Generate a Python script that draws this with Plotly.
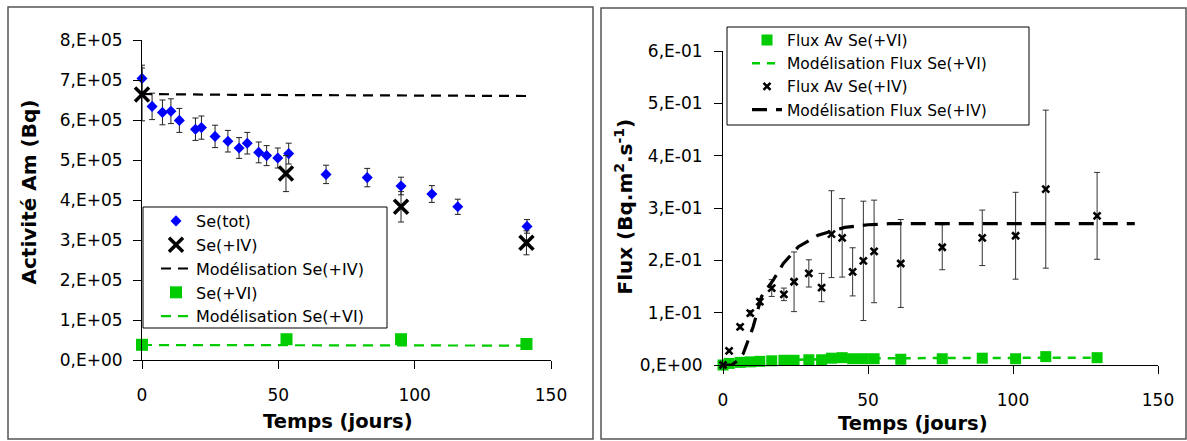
import plotly.graph_objects as go

# ---------------- Left panel data ----------------
tot_days = [0, 3.7, 7.5, 10.6, 13.7, 19.6, 21.8, 26.8, 31.5, 35.6, 38.6, 42.8, 45.7, 49.8, 53.8,
            67.5, 82.6, 95, 106.3, 115.8, 141.2]
tot_vals = [704000, 634000, 619000, 622000, 599000, 577000, 581000, 559000, 547000, 530000, 542000,
            519000, 511000, 505000, 516000, 464000, 456000, 435000, 415000, 383000, 334000]
tot_err = [33000, 33000, 31000, 31000, 30000, 28000, 29000, 28000, 27000, 26000, 27000,
           26000, 25000, 25000, 26000, 23000, 23000, 22000, 21000, 19000, 17000]

iv_days = [0, 52.8, 95, 141]
iv_vals = [664000, 466000, 383000, 293000]
iv_err = [66000, 45000, 38000, 30000]

mod_iv_days = [0, 33, 141]
mod_iv_vals = [665000, 663000, 660000]

vi_days = [0, 53, 95, 141]
vi_vals = [38000, 52000, 52000, 40000]

mod_vi_days = [0, 141]
mod_vi_vals = [37500, 36000]

left_yticks = [0, 100000, 200000, 300000, 400000, 500000, 600000, 700000, 800000]
left_yticktext = ["0,E+00", "1,E+05", "2,E+05", "3,E+05", "4,E+05", "5,E+05", "6,E+05", "7,E+05", "8,E+05"]

# ---------------- Right panel data ----------------
flux_days = [0, 2.1, 5.9, 9.4, 12.7, 16.8, 21.0, 24.5, 29.6, 34.0, 37.4, 41.1, 44.7, 48.4, 52.1,
             61.3, 75.6, 89.4, 100.9, 111.3, 129.0]
flux_iv = [0.0, 0.027, 0.073, 0.099, 0.121, 0.147, 0.135, 0.159, 0.175, 0.148, 0.250, 0.243, 0.178,
           0.199, 0.217, 0.194, 0.225, 0.243, 0.247, 0.336, 0.285]
flux_iv_err = [0.0, 0.003, 0.004, 0.005, 0.006, 0.016, 0.012, 0.057, 0.026, 0.027, 0.083, 0.075, 0.046,
               0.114, 0.098, 0.084, 0.043, 0.053, 0.083, 0.151, 0.083]
flux_vi = [0.0, 0.003, 0.005, 0.006, 0.007, 0.008, 0.009, 0.009, 0.010, 0.010, 0.013, 0.014, 0.012,
           0.012, 0.012, 0.011, 0.012, 0.013, 0.012, 0.016, 0.014]

mod_flux_iv_days = [0, 3, 5, 7, 10.4, 13.3, 17.3, 20.8, 26, 32.8, 42, 50, 57.5, 142]
mod_flux_iv_vals = [0, 0, 0.008, 0.022, 0.073, 0.131, 0.162, 0.194, 0.226, 0.248, 0.263, 0.268, 0.27, 0.27]

mod_flux_vi_days = [0, 5, 10, 20, 40, 60, 129]
mod_flux_vi_vals = [0.0, 0.004, 0.006, 0.009, 0.012, 0.013, 0.014]

right_yticks = [0, 0.1, 0.2, 0.3, 0.4, 0.5, 0.6]
right_yticktext = ["0,E+00", "1,E-01", "2,E-01", "3,E-01", "4,E-01", "5,E-01", "6,E-01"]

xticks = [0, 50, 100, 150]

# ---------------- Styling ----------------
FONT = "DejaVu Sans"
BLUE = "#0000FF"
GREEN = "#00CC00"
W, H = 1187, 441


def px_x(x):
    return x / W


def px_y(y):
    return (H - y) / H


fig = go.Figure()

# Left panel traces
fig.add_trace(go.Scatter(
    x=tot_days, y=tot_vals, mode="markers", name="Se(tot)",
    marker=dict(symbol="diamond", size=8.5, color=BLUE),
    error_y=dict(type="data", array=tot_err, color="#222222", thickness=1, width=3),
    xaxis="x", yaxis="y", legend="legend", cliponaxis=False))
fig.add_trace(go.Scatter(
    x=iv_days, y=iv_vals, mode="markers", name="Se(+IV)",
    marker=dict(symbol="x-thin", size=14, line=dict(width=3.5, color="black"), color="black"),
    error_y=dict(type="data", array=iv_err, color="#222222", thickness=1, width=3),
    xaxis="x", yaxis="y", legend="legend", cliponaxis=False))
fig.add_trace(go.Scatter(
    x=mod_iv_days, y=mod_iv_vals, mode="lines", name="Modélisation Se(+IV)",
    line=dict(color="black", width=2.2, dash="10px,7px"),
    xaxis="x", yaxis="y", legend="legend"))
fig.add_trace(go.Scatter(
    x=vi_days, y=vi_vals, mode="markers", name="Se(+VI)",
    marker=dict(symbol="square", size=12, color=GREEN),
    xaxis="x", yaxis="y", legend="legend", cliponaxis=False))
fig.add_trace(go.Scatter(
    x=mod_vi_days, y=mod_vi_vals, mode="lines", name="Modélisation Se(+VI)",
    line=dict(color=GREEN, width=2.2, dash="10px,7px"),
    xaxis="x", yaxis="y", legend="legend"))

# Right panel traces
fig.add_trace(go.Scatter(
    x=flux_days, y=flux_vi, mode="markers", name="Flux Av Se(+VI)",
    marker=dict(symbol="square", size=11, color=GREEN),
    xaxis="x2", yaxis="y2", legend="legend2", cliponaxis=False))
fig.add_trace(go.Scatter(
    x=mod_flux_vi_days, y=mod_flux_vi_vals, mode="lines", name="Modélisation Flux Se(+VI)",
    line=dict(color=GREEN, width=2.5, dash="8px,7px"),
    xaxis="x2", yaxis="y2", legend="legend2"))
fig.add_trace(go.Scatter(
    x=flux_days, y=flux_iv, mode="markers", name="Flux Av Se(+IV)",
    marker=dict(symbol="x-thin", size=7, line=dict(width=2.6, color="black"), color="black"),
    error_y=dict(type="data", array=flux_iv_err, color="#333333", thickness=1, width=3),
    xaxis="x2", yaxis="y2", legend="legend2", cliponaxis=False))
fig.add_trace(go.Scatter(
    x=mod_flux_iv_days, y=mod_flux_iv_vals, mode="lines", name="Modélisation Flux Se(+IV)",
    line=dict(color="black", width=3.2, dash="15px,9px"),
    xaxis="x2", yaxis="y2", legend="legend2"))

axis_common = dict(showgrid=False, zeroline=False, showline=True, linecolor="black", linewidth=1,
                   ticks="outside", ticklen=8, tickcolor="black", tickwidth=1,
                   tickfont=dict(family=FONT, size=17, color="black"), automargin=False)

fig.update_layout(
    width=W, height=H,
    margin=dict(l=0, r=0, t=0, b=0),
    paper_bgcolor="white", plot_bgcolor="white",
    font=dict(family=FONT, color="black"),
    xaxis=dict(domain=[px_x(142), px_x(551)], range=[0, 150], tickvals=xticks,
               anchor="y", ticklabelstandoff=12, **axis_common),
    yaxis=dict(domain=[px_y(360), px_y(40)], range=[0, 800000], tickvals=left_yticks,
               ticktext=left_yticktext, anchor="x", ticklabelstandoff=7, **axis_common),
    xaxis2=dict(domain=[px_x(723), px_x(1158)], range=[0, 150], tickvals=xticks,
                anchor="y2", ticklabelstandoff=12, **axis_common),
    yaxis2=dict(domain=[px_y(365), px_y(51)], range=[0, 0.6], tickvals=right_yticks,
                ticktext=right_yticktext, anchor="x2", ticklabelstandoff=8, **axis_common),
    legend=dict(x=px_x(156), y=px_y(204), xanchor="left", yanchor="top",
                bgcolor="rgba(0,0,0,0)", borderwidth=0,
                font=dict(family=FONT, size=16, color="black"), traceorder="normal",
                itemwidth=30),
    legend2=dict(x=px_x(747), y=px_y(23.5), xanchor="left", yanchor="top",
                 bgcolor="rgba(0,0,0,0)", borderwidth=0,
                 font=dict(family=FONT, size=15.5, color="black"), traceorder="normal",
                 itemwidth=30),
    showlegend=True,
)

# Panel borders
for x0, y0, x1, y1 in [(8, 7, 593, 439), (601, 8, 1186, 439)]:
    fig.add_shape(type="rect", xref="paper", yref="paper",
                  x0=px_x(x0), x1=px_x(x1), y0=px_y(y1), y1=px_y(y0),
                  line=dict(color="#555555", width=1.5), fillcolor="rgba(0,0,0,0)", layer="below")

# Legend boxes
for x0, y0, x1, y1 in [(143, 207, 387, 328), (727, 27, 1029, 125)]:
    fig.add_shape(type="rect", xref="paper", yref="paper",
                  x0=px_x(x0), x1=px_x(x1), y0=px_y(y1), y1=px_y(y0),
                  line=dict(color="black", width=1), fillcolor="white", layer="above")

# Axis titles as annotations
title_font = dict(family=FONT, size=20, color="black")
fig.add_annotation(text="<b>Temps (jours)</b>", xref="paper", yref="paper",
                   x=px_x(338), y=px_y(421.5), xanchor="center", yanchor="middle",
                   showarrow=False, font=dict(family=FONT, size=19.5, color="black"))
fig.add_annotation(text="<b>Temps (jours)</b>", xref="paper", yref="paper",
                   x=px_x(912.5), y=px_y(423), xanchor="center", yanchor="middle",
                   showarrow=False, font=dict(family=FONT, size=19.5, color="black"))
fig.add_annotation(text="<b>Activité Am (Bq)</b>", xref="paper", yref="paper",
                   x=px_x(28.5), y=px_y(192), xanchor="center", yanchor="middle",
                   textangle=-90, showarrow=False, font=title_font)
fig.add_annotation(text="<b>Flux (Bq.m<sup>2</sup>.s<sup>-1</sup>)</b>", xref="paper", yref="paper",
                   x=px_x(623), y=px_y(206.5), xanchor="center", yanchor="middle",
                   textangle=-90, showarrow=False, font=title_font)

fig.write_html("out.html", config={"displayModeBar": False},
               post_script="document.body.style.margin='0';document.body.style.overflow='hidden';")
